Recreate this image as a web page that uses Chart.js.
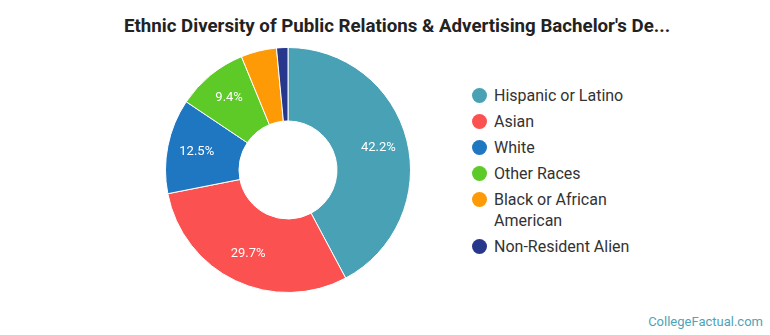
<!DOCTYPE html>
<html>
<head>
<meta charset="utf-8">
<script src="https://cdn.jsdelivr.net/npm/chart.js@4"></script>
<style>
  html, body { margin: 0; padding: 0; background: #fff; }
  body { width: 770px; height: 335px; position: relative; overflow: hidden; font-family: Roboto, 'Noto Sans', sans-serif; }
  .title { position: absolute; left: 0; top: 15px; width: 794px; text-align: center; font-weight: bold; font-size: 18.7px; color: #222; }
  .chart-wrap { position: absolute; left: 165px; top: 47px; width: 246px; height: 246px; }
  .legend { position: absolute; left: 472px; top: 85px; width: 180px; margin: 0; padding: 0; list-style: none; }
  .legend li { display: flex; align-items: flex-start; font-size: 16px; line-height: 21px; color: #333; margin-bottom: 5px; }
  .legend .dot { flex: none; width: 15px; height: 15px; border-radius: 50%; margin: 3px 7px 0 0; }
  .legend .txt { width: 145px; }
  .credit { position: absolute; right: 7px; bottom: 6px; font-size: 13px; color: #4fa3b6; }
</style>
</head>
<body>
<div class="title">Ethnic Diversity of Public Relations &amp; Advertising Bachelor's De...</div>
<div class="chart-wrap"><canvas id="pie"></canvas></div>
<ul class="legend" id="legend"></ul>
<div class="credit">CollegeFactual.com</div>
<script>
const CATEGORIES = ['Hispanic or Latino', 'Asian', 'White', 'Other Races', 'Black or African American', 'Non-Resident Alien'];
const SHARES     = [42.2, 29.7, 12.5, 9.4, 4.7, 1.5];
const COLORS     = ['#48a1b5', '#fc5151', '#1f77c2', '#5dca28', '#fd9a06', '#27388c'];

// white % labels inside the bigger slices
const sliceLabels = {
  id: 'sliceLabels',
  afterDatasetsDraw(chart) {
    const { ctx } = chart;
    const meta = chart.getDatasetMeta(0);
    ctx.save();
    ctx.fillStyle = '#fff';
    ctx.font = '13px Roboto, sans-serif';
    ctx.textAlign = 'center';
    ctx.textBaseline = 'middle';
    meta.data.forEach((arc, i) => {
      const v = SHARES[i];
      if (v < 5) return;
      const mid = (arc.startAngle + arc.endAngle) / 2;
      const r = arc.innerRadius + (arc.outerRadius - arc.innerRadius) * 0.6;
      ctx.fillText(v.toFixed(1) + '%', arc.x + Math.cos(mid) * r, arc.y + Math.sin(mid) * r);
    });
    ctx.restore();
  },
};

new Chart(document.getElementById('pie'), {
  type: 'doughnut',
  data: {
    labels: CATEGORIES,
    datasets: [{
      data:            SHARES,
      backgroundColor: COLORS,
      borderColor:     '#fff',
      borderWidth:     1,
    }],
  },
  options: {
    responsive:          true,
    maintainAspectRatio: false,
    animation:           false,
    cutout:              '40%',
    plugins: {
      legend:  { display: false },
      tooltip: { enabled: false },
    },
  },
  plugins: [sliceLabels],
});

document.getElementById('legend').innerHTML = CATEGORIES.map((c, i) => `
  <li><span class="dot" style="background:${COLORS[i]}"></span><span class="txt">${c}</span></li>`).join('');
</script>
</body>
</html>
